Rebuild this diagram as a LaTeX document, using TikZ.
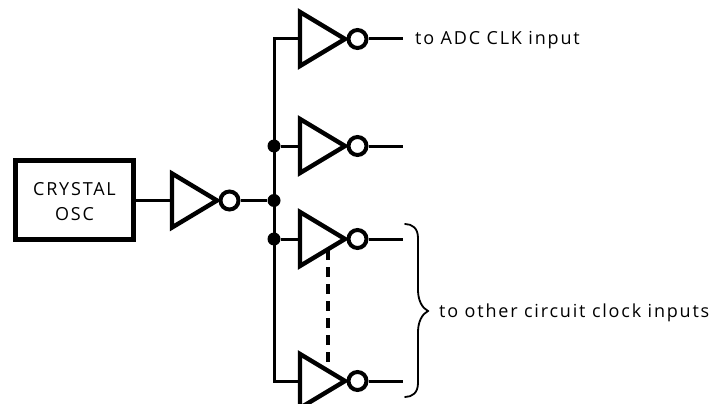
\documentclass[tikz,border=0pt]{standalone}
\usepackage{fontspec}
\setmainfont[LetterSpace=10]{Open Sans}
\begin{document}
\begin{tikzpicture}[x=1pt,y=-1pt,
  wire/.style={line width=3pt},
  heavy/.style={line width=4.4pt,line join=miter},
  dot/.style={circle,fill=black,inner sep=0pt,minimum size=13pt},
  bubble/.style={circle,draw,line width=4pt,inner sep=0pt,minimum size=18pt},
  lbl/.style={font=\fontsize{18pt}{25pt}\selectfont,inner sep=0pt,align=center},
  inv/.pic={
    \draw[heavy] (0,-27) -- (45,0) -- (0,27) -- cycle;
    \node[bubble] (-b) at (57.5,0) {};
    \coordinate (-in) at (0,0);
  }]
\useasboundingbox (0,0) rectangle (710,404);
% buffers
\node[draw,heavy,minimum width=118pt,minimum height=79pt,inner sep=0pt] (osc) at (74.5,200) {};
\node[lbl,anchor=center] (osct) at (74.5,202) {CRYSTAL\\OSC};
\pic (g0) at (172,200.5) {inv};
\pic (g1) at (300,39) {inv};
\pic (g2) at (300,146) {inv};
\pic (g3) at (300,239) {inv};
\pic (g4) at (300,381) {inv};
% junctions
\node[dot] (j2) at (274,146) {};
\node[dot] (j0) at (274,200.5) {};
\node[dot] (j3) at (274,239) {};
\coordinate (c1) at (274,39);
\coordinate (c4) at (274,381);
% ends
\coordinate (o1) at (403,39);
\coordinate (o2) at (403,146);
\coordinate (o3) at (403,239);
\coordinate (o4) at (403,381);
% wires
\draw[wire] (osc.east |- g0-in) -- (g0-in);
\draw[wire] (g0-b) -- (j0);
\draw[wire,line join=miter] (g1-in) -- (c1) -- (c4) -- (g4-in);
\draw[wire] (j2) -- (g2-in);
\draw[wire] (j3) -- (g3-in);
\draw[wire] (g1-b) -- (o1);
\draw[wire] (g2-b) -- (o2);
\draw[wire] (g3-b) -- (o3);
\draw[wire] (g4-b) -- (o4);
% dashed link
\coordinate (d1) at (328,250);
\coordinate (d2) at (328,368);
\draw[line width=3.6pt,dash pattern=on 10pt off 7pt] (d1) -- (d2);
% brace
\coordinate (b1) at (405,224);
\coordinate (b2) at (405,397);
\coordinate (bt) at (428,311);
\draw[line width=1.8pt,line cap=round] (b1) .. controls (412,224) and (418,228) .. (418,238)
  -- (418,290) .. controls (418,300) and (422,308) .. (bt)
  .. controls (422,314) and (418,322) .. (418,332)
  -- (418,383) .. controls (418,393) and (412,397) .. (b2);
% texts
\node[lbl,anchor=base west] (t1) at (415,45) {to ADC CLK input};
\node[lbl,anchor=base west] (t2) at (439,317) {to other circuit clock inputs};
\end{tikzpicture}
\end{document}
